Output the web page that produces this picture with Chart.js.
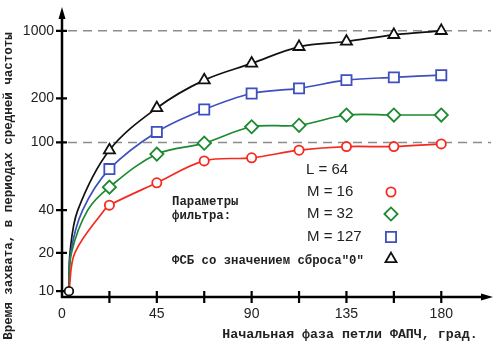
<!DOCTYPE html>
<html>
<head>
<meta charset="utf-8"/>
<title>Время захвата</title>
<script src="https://cdn.jsdelivr.net/npm/chart.js"></script>
<style>
html, body { margin: 0; padding: 0; background: #fff; }
#chart { display: block; }
</style>
</head>
<body>
<canvas id="chart" width="500" height="345"></canvas>
<script>
// marker phases, degrees
const phase = [22.5, 45, 67.5, 90, 112.5, 135, 157.5, 180];
// capture time, periods of mean frequency
const m16  = [42.8, 57.9, 77.9, 81.2, 90, 94.5, 94.5, 98];
const m32  = [54.6, 85.4, 99, 128, 131, 154, 154, 154];
const m127 = [69.7, 118, 168, 225, 254, 309, 330, 348];
const fsb  = [90, 172, 309, 460, 683, 775, 909, 1000];

// all curves start here
const startPhase = 3.3;
const startTime = 10;
// phase where each curve passes 20 and 40 (m16, m32, m127, fsb)
const cross20 = [6.1, 4.5, 4.1, 3.8];
const cross40 = [20, 12.2, 9.8, 7.5];

const yTicks = [10, 20, 40, 100, 200, 1000];
const xTicks = [0, 22.5, 45, 67.5, 90, 112.5, 135, 157.5, 180];
const xLabels = ['0', '', '45', '', '90', '', '135', '', '180'];

// the printed y axis is not a true log axis: height of each tick above the x axis
const yStops = [6, 44.3, 87, 154.7, 198.7, 266.3];

function warp(v) {
  const n = yTicks.length;
  let i = 0;
  while (i < n - 2 && v > yTicks[i + 1]) i++;
  const a = yTicks[i], b = yTicks[i + 1];
  const t = Math.log(v / a) / Math.log(b / a);
  return yStops[i] + t * (yStops[i + 1] - yStops[i]);
}
function unwarp(u) {
  const n = yTicks.length;
  let i = 0;
  while (i < n - 2 && u > yStops[i + 1]) i++;
  const t = (u - yStops[i]) / (yStops[i + 1] - yStops[i]);
  return yTicks[i] * Math.pow(yTicks[i + 1] / yTicks[i], t);
}

class WarpScale extends Chart.LinearScale {
  static id = 'warp';
  determineDataLimits() {
    this.min = this.options.min;
    this.max = this.options.max;
  }
  buildTicks() {
    return yTicks.map(v => ({ value: v }));
  }
  getPixelForValue(v) {
    const lo = warp(this.min), hi = warp(this.max);
    return this.getPixelForDecimal((warp(v) - lo) / (hi - lo));
  }
  getValueForPixel(p) {
    const lo = warp(this.min), hi = warp(this.max);
    return unwarp(lo + this.getDecimalForPixel(p) * (hi - lo));
  }
}
Chart.register(WarpScale);

const series = [
  { vals: m16,  c20: cross20[0], c40: cross40[0], color: '#f52a1e', style: 'circle',   r: 4.6 },
  { vals: m32,  c20: cross20[1], c40: cross40[1], color: '#1c8a30', style: 'rectRot',  r: 6.6 },
  { vals: m127, c20: cross20[2], c40: cross40[2], color: '#3d50bd', style: 'rect',     r: 7.2 },
  { vals: fsb,  c20: cross20[3], c40: cross40[3], color: '#111111', style: 'triangle', r: 6.4 }
];

const datasets = [];
series.forEach(s => {
  datasets.push({
    data: phase.map((p, j) => ({ x: p, y: s.vals[j] })),
    showLine: false,
    pointStyle: s.style,
    pointRadius: s.r,
    pointBorderWidth: 1.8,
    pointBorderColor: s.color,
    pointBackgroundColor: '#fff',
    order: 0
  });
  datasets.push({
    data: [{ x: startPhase, y: startTime }, { x: s.c20, y: 20 }, { x: s.c40, y: 40 }]
      .concat(phase.map((p, j) => ({ x: p, y: s.vals[j] }))),
    showLine: true,
    borderColor: s.color,
    borderWidth: 1.7,
    pointRadius: 0,
    tension: 0.35,
    fill: false,
    order: 2
  });
});
datasets.push({
  data: [{ x: startPhase, y: startTime }],
  showLine: false,
  pointStyle: 'circle',
  pointRadius: 4.3,
  pointBorderWidth: 1.8,
  pointBorderColor: '#111',
  pointBackgroundColor: '#fff',
  order: 0
});

const decor = {
  id: 'decor',
  beforeDatasetsDraw(chart) {
    const { ctx, chartArea: a, scales: { x, y } } = chart;
    const x0 = x.getPixelForValue(0);
    const y0 = a.bottom;
    ctx.save();
    // dashed guides
    ctx.strokeStyle = '#8c8c8c';
    ctx.lineWidth = 1.5;
    ctx.setLineDash([9, 6]);
    [100, 1000].forEach(v => {
      const py = y.getPixelForValue(v);
      ctx.beginPath();
      ctx.moveTo(x0 + 6, py);
      ctx.lineTo(a.right, py);
      ctx.stroke();
    });
    ctx.setLineDash([]);
    // axes
    ctx.strokeStyle = '#000';
    ctx.fillStyle = '#000';
    ctx.lineWidth = 2.5;
    ctx.beginPath();
    ctx.moveTo(x0, y0 + 1);
    ctx.lineTo(x0, a.top + 8);
    ctx.moveTo(x0 - 1, y0);
    ctx.lineTo(a.right - 8, y0);
    ctx.stroke();
    ctx.beginPath();
    ctx.moveTo(x0, a.top - 3);
    ctx.lineTo(x0 - 3.5, a.top + 9);
    ctx.lineTo(x0 + 3.5, a.top + 9);
    ctx.closePath();
    ctx.moveTo(a.right + 2, y0);
    ctx.lineTo(a.right - 10, y0 - 3.5);
    ctx.lineTo(a.right - 10, y0 + 3.5);
    ctx.closePath();
    ctx.fill();
    // tick marks crossing the axes
    ctx.lineWidth = 2.2;
    ctx.beginPath();
    yTicks.forEach(v => {
      const py = y.getPixelForValue(v);
      ctx.moveTo(x0 - 6, py);
      ctx.lineTo(x0 + 5, py);
    });
    xTicks.slice(1).forEach(v => {
      const px = x.getPixelForValue(v);
      ctx.moveTo(px, y0 - 6);
      ctx.lineTo(px, y0 + 6);
    });
    ctx.stroke();
    ctx.restore();
  },
  afterDraw(chart) {
    const ctx = chart.ctx;
    ctx.save();
    ctx.fillStyle = '#222';
    ctx.textBaseline = 'middle';
    // axis titles
    ctx.font = 'bold 12.5px "Liberation Mono"';
    ctx.textAlign = 'center';
    ctx.save();
    ctx.translate(9, 186);
    ctx.rotate(-Math.PI / 2);
    ctx.fillText('Время захвата, в периодах средней частоты', 0, 0);
    ctx.restore();
    ctx.font = 'bold 13.3px "Liberation Mono"';
    ctx.fillText('Начальная фаза петли ФАПЧ, град.', 350, 335);
    // legend block
    ctx.textAlign = 'left';
    ctx.font = 'bold 12.3px "Liberation Mono"';
    ctx.fillText('Параметры', 172, 202);
    ctx.fillText('фильтра:', 172, 216);
    ctx.fillText('ФСБ со значением сброса"0"', 172, 261);
    ctx.font = '15px "Liberation Sans"';
    ctx.fillText('L = 64', 306, 170);
    ctx.fillText('M = 16', 307, 192);
    ctx.fillText('M = 32', 307, 214);
    ctx.fillText('M = 127', 307, 237);
    const rows = [192, 214, 237, 259];
    series.forEach((s, i) => {
      ctx.strokeStyle = s.color;
      ctx.fillStyle = '#fff';
      ctx.lineWidth = 1.8;
      Chart.helpers.drawPoint(ctx, { pointStyle: s.style, radius: s.r, borderWidth: 1.8, rotation: 0 }, 391, rows[i]);
    });
    ctx.restore();
  }
};

new Chart(document.getElementById('chart'), {
  type: 'scatter',
  data: { datasets: datasets },
  options: {
    responsive: false,
    animation: false,
    devicePixelRatio: 1,
    events: [],
    layout: { padding: { top: 10, right: 3, left: 0, bottom: 0 } },
    plugins: { legend: { display: false }, tooltip: { enabled: false } },
    scales: {
      x: {
        type: 'linear',
        min: 0,
        max: 203.6,
        afterFit: s => { s.height = 48; s.paddingLeft = 0; s.paddingRight = 0; },
        afterBuildTicks: s => { s.ticks = xTicks.map(v => ({ value: v })); },
        border: { display: false },
        grid: { display: false, drawTicks: false },
        ticks: {
          autoSkip: false,
          maxRotation: 0,
          padding: 9,
          color: '#222',
          font: { family: 'Liberation Sans', size: 14 },
          callback: (v, i) => xLabels[i]
        }
      },
      y: {
        type: 'warp',
        min: 9,
        max: 1640,
        afterFit: s => { s.width = 62; s.paddingTop = 0; s.paddingBottom = 0; },
        border: { display: false },
        grid: { display: false, drawTicks: false },
        ticks: {
          padding: 8,
          color: '#222',
          font: { family: 'Liberation Sans', size: 14 },
          callback: v => String(v)
        }
      }
    }
  },
  plugins: [decor]
});
</script>
</body>
</html>
